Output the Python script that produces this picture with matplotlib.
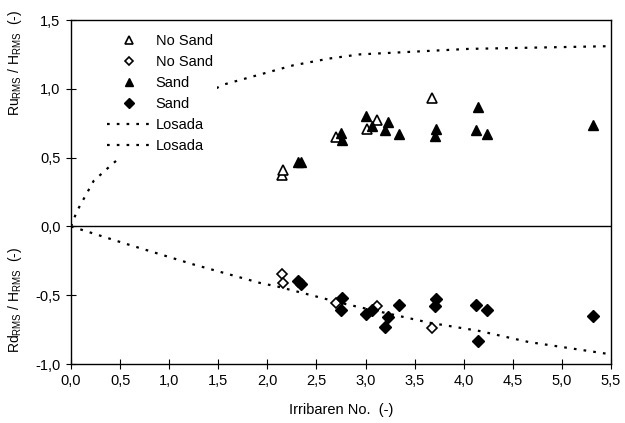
import numpy as np
import matplotlib.pyplot as plt

plt.rcParams['font.family'] = ['Liberation Sans', 'DejaVu Sans']
plt.rcParams['mathtext.default'] = 'regular'

# Ru (run-up) data, upper half
nosand_ru_x = [2.15, 2.16, 2.70, 3.01, 3.12, 3.68]
nosand_ru_y = [0.37, 0.41, 0.65, 0.71, 0.775, 0.93]
sand_ru_x = [2.31, 2.34, 2.75, 2.76, 3.00, 3.07, 3.23, 3.20, 3.34, 3.72, 3.71, 4.15, 4.13, 4.24, 5.32]
sand_ru_y = [0.47, 0.47, 0.68, 0.625, 0.80, 0.73, 0.76, 0.70, 0.67, 0.71, 0.66, 0.87, 0.70, 0.67, 0.74]

# Rd (run-down) data, lower half
nosand_rd_x = [2.15, 2.16, 2.70, 3.12, 3.68]
nosand_rd_y = [-0.343, -0.41, -0.56, -0.58, -0.74]
sand_rd_x = [2.31, 2.34, 2.76, 2.75, 3.00, 3.07, 3.23, 3.20, 3.34, 3.72, 3.71, 4.13, 4.24, 4.15, 5.32]
sand_rd_y = [-0.40, -0.415, -0.52, -0.61, -0.64, -0.61, -0.655, -0.73, -0.57, -0.53, -0.58, -0.57, -0.61, -0.83, -0.65]

# Losada curves
losada_up_x = [0.0, 0.06, 0.23, 0.40, 0.53, 0.75, 1.0, 1.25, 1.55, 2.26, 2.63, 2.94, 4.05, 5.5]
losada_up_y = [0.0, 0.11, 0.33, 0.44, 0.52, 0.66, 0.80, 0.92, 1.03, 1.17, 1.22, 1.25, 1.29, 1.31]
losada_dn_x = [0.0, 0.53, 1.24, 1.92, 2.12, 2.80, 3.65, 4.16, 4.66, 5.5]
losada_dn_y = [0.0, -0.12, -0.275, -0.41, -0.44, -0.565, -0.70, -0.76, -0.84, -0.93]

xticks = [0.0, 0.5, 1.0, 1.5, 2.0, 2.5, 3.0, 3.5, 4.0, 4.5, 5.0, 5.5]
yticks = [-1.0, -0.5, 0.0, 0.5, 1.0, 1.5]

fs = 10.5

fig = plt.figure(figsize=(6.25, 4.23), dpi=100)
ax = fig.add_axes([71/625, 1-364/423, 540/625, 344/423])

dots = (0, (1.2, 3.2))
ax.axhline(0, color='black', lw=1.0, zorder=1)

ax.plot(nosand_ru_x, nosand_ru_y, ls='none', marker='^', ms=6.5, mfc='white', mec='black', mew=1.2, label='No Sand', zorder=4)
ax.plot(nosand_rd_x, nosand_rd_y, ls='none', marker='D', ms=5, mfc='white', mec='black', mew=1.2, label='No Sand', zorder=4)
ax.plot(sand_ru_x, sand_ru_y, ls='none', marker='^', ms=7, color='black', label='Sand', zorder=4)
ax.plot(sand_rd_x, sand_rd_y, ls='none', marker='D', ms=6, color='black', label='Sand', zorder=4)
ax.plot(losada_up_x, losada_up_y, color='black', lw=1.6, ls=dots, label='Losada', zorder=2)
ax.plot(losada_dn_x, losada_dn_y, color='black', lw=1.6, ls=dots, label='Losada', zorder=2)

ax.set_xlim(0, 5.5)
ax.set_ylim(-1.0, 1.5)
ax.set_xticks(xticks)
ax.set_xticklabels([('%.1f' % v).replace('.', ',') for v in xticks])
ax.set_yticks(yticks)
ax.set_yticklabels([('%.1f' % v).replace('.', ',') for v in yticks])
ax.tick_params(direction='inout', length=7, width=0.8, labelsize=fs, pad=4)
for s in ax.spines.values():
    s.set_linewidth(1.0)

leg = ax.legend(loc='upper left', bbox_to_anchor=(0.058, 0.972), fontsize=fs,
                handlelength=3.1, handletextpad=0.27, labelspacing=0.48,
                borderpad=0.3, borderaxespad=0, markerscale=0.8,
                frameon=True, fancybox=False)
leg.get_frame().set_facecolor('white')
leg.get_frame().set_edgecolor('none')
leg.get_frame().set_alpha(1)
leg.set_zorder(3)

fig.text(15/625, 1-63/423, 'Ru$_{RMS}$ / H$_{RMS}$  (-)', rotation=90, ha='center', va='center', fontsize=10)
fig.text(15/625, 1-300/423, 'Rd$_{RMS}$ / H$_{RMS}$  (-)', rotation=90, ha='center', va='center', fontsize=10)
fig.text(341/625, 1-410/423, 'Irribaren No.  (-)', ha='center', va='center', fontsize=fs)

fig.savefig('out.png', dpi=100)
